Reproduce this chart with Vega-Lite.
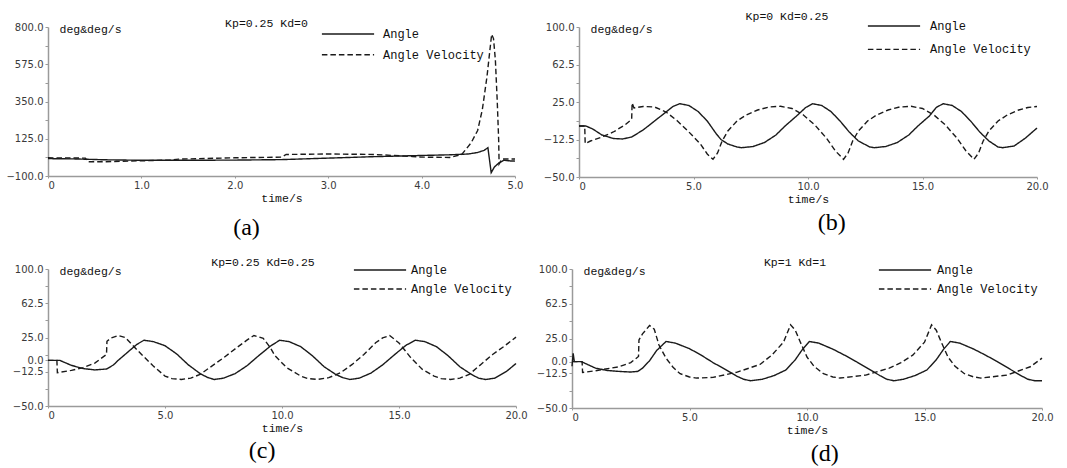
{
  "$schema": "https://vega.github.io/schema/vega-lite/v6.json",
  "background": "white",
  "padding": {"left": 5, "top": 10, "right": 0, "bottom": 0},
  "config": {
    "view": {"stroke": null},
    "axis": {"labelFont": "DejaVu Sans", "labelFontSize": 10, "labelColor": "#3a3a3a", "domainColor": "#9a9a9a", "domainWidth": 1.5, "tickColor": "#9a9a9a", "tickSize": 3, "tickWidth": 1, "labelPadding": 2, "grid": false, "titleFont": "Liberation Mono", "titleFontSize": 11.5, "titleFontWeight": "normal", "titleColor": "#111"},
    "axisX": {"titlePadding": 2, "tickSize": 2},
    "legend": {"labelFont": "Liberation Mono", "labelFontSize": 12, "labelColor": "#111", "symbolType": "M-2.9,0H2.9", "symbolSize": 324, "symbolStrokeWidth": 1.4, "symbolStrokeColor": "#1a1a1a", "labelOffset": 22, "padding": 0, "rowPadding": 0},
    "title": {"font": "Liberation Mono", "fontSize": 11.5, "fontWeight": "normal", "color": "#111", "offset": 0, "frame": "group"}
  },
  "resolve": {"scale": {"strokeDash": "independent"}, "legend": {"strokeDash": "independent"}},
  "datasets": {
    "a": [
      {"t":0,"v":5,"s":"Angle"},{"t":0.3,"v":3,"s":"Angle"},{"t":0.6,"v":-2,"s":"Angle"},{"t":1.0,"v":-5,"s":"Angle"},{"t":1.5,"v":-5,"s":"Angle"},{"t":2.0,"v":-4,"s":"Angle"},{"t":2.5,"v":-1,"s":"Angle"},{"t":3.0,"v":8,"s":"Angle"},{"t":3.5,"v":17,"s":"Angle"},{"t":4.0,"v":24,"s":"Angle"},{"t":4.3,"v":28,"s":"Angle"},{"t":4.5,"v":33,"s":"Angle"},{"t":4.6,"v":42,"s":"Angle"},{"t":4.67,"v":55,"s":"Angle"},{"t":4.71,"v":71,"s":"Angle"},{"t":4.745,"v":-80,"s":"Angle"},{"t":4.78,"v":-45,"s":"Angle"},{"t":4.82,"v":-25,"s":"Angle"},{"t":4.88,"v":-5,"s":"Angle"},{"t":4.95,"v":-9,"s":"Angle"},{"t":5.0,"v":-10,"s":"Angle"},
      {"t":0,"v":10,"s":"Angle Velocity"},{"t":0.4,"v":8,"s":"Angle Velocity"},{"t":0.43,"v":-14,"s":"Angle Velocity"},{"t":0.6,"v":-14,"s":"Angle Velocity"},{"t":1.0,"v":-8,"s":"Angle Velocity"},{"t":1.3,"v":-4,"s":"Angle Velocity"},{"t":1.4,"v":2,"s":"Angle Velocity"},{"t":2.0,"v":10,"s":"Angle Velocity"},{"t":2.5,"v":14,"s":"Angle Velocity"},{"t":2.55,"v":30,"s":"Angle Velocity"},{"t":3.0,"v":33,"s":"Angle Velocity"},{"t":3.5,"v":30,"s":"Angle Velocity"},{"t":3.9,"v":18,"s":"Angle Velocity"},{"t":4.0,"v":14,"s":"Angle Velocity"},{"t":4.3,"v":12,"s":"Angle Velocity"},{"t":4.43,"v":30,"s":"Angle Velocity"},{"t":4.53,"v":100,"s":"Angle Velocity"},{"t":4.6,"v":175,"s":"Angle Velocity"},{"t":4.65,"v":300,"s":"Angle Velocity"},{"t":4.7,"v":500,"s":"Angle Velocity"},{"t":4.75,"v":756,"s":"Angle Velocity"},{"t":4.77,"v":730,"s":"Angle Velocity"},{"t":4.79,"v":600,"s":"Angle Velocity"},{"t":4.81,"v":350,"s":"Angle Velocity"},{"t":4.825,"v":120,"s":"Angle Velocity"},{"t":4.83,"v":-27,"s":"Angle Velocity"},{"t":4.86,"v":3,"s":"Angle Velocity"},{"t":5.0,"v":3,"s":"Angle Velocity"}
    ],
    "b": [
      {"t":0,"v":1,"s":"Angle"},{"t":0.3,"v":1,"s":"Angle"},{"t":0.6,"v":-2,"s":"Angle"},{"t":1.0,"v":-8,"s":"Angle"},{"t":1.5,"v":-11.5,"s":"Angle"},{"t":1.9,"v":-12,"s":"Angle"},{"t":2.3,"v":-10,"s":"Angle"},{"t":2.8,"v":-3,"s":"Angle"},{"t":3.3,"v":6,"s":"Angle"},{"t":3.8,"v":15,"s":"Angle"},{"t":4.1,"v":20.5,"s":"Angle"},{"t":4.4,"v":23.3,"s":"Angle"},{"t":4.8,"v":21.5,"s":"Angle"},{"t":5.2,"v":15.5,"s":"Angle"},{"t":5.6,"v":6,"s":"Angle"},{"t":6.0,"v":-7,"s":"Angle"},{"t":6.2,"v":-12.5,"s":"Angle"},{"t":6.5,"v":-17,"s":"Angle"},{"t":6.9,"v":-20,"s":"Angle"},{"t":7.1,"v":-20.7,"s":"Angle"},{"t":7.6,"v":-19.5,"s":"Angle"},{"t":8.1,"v":-15.5,"s":"Angle"},{"t":8.6,"v":-8,"s":"Angle"},{"t":9.0,"v":1,"s":"Angle"},{"t":9.5,"v":11,"s":"Angle"},{"t":9.9,"v":19.5,"s":"Angle"},{"t":10.2,"v":23.3,"s":"Angle"},{"t":10.6,"v":21.5,"s":"Angle"},{"t":11.0,"v":15.5,"s":"Angle"},{"t":11.4,"v":6,"s":"Angle"},{"t":11.8,"v":-5,"s":"Angle"},{"t":12.2,"v":-14,"s":"Angle"},{"t":12.7,"v":-20,"s":"Angle"},{"t":12.9,"v":-20.7,"s":"Angle"},{"t":13.4,"v":-19.5,"s":"Angle"},{"t":13.9,"v":-15.5,"s":"Angle"},{"t":14.4,"v":-8,"s":"Angle"},{"t":14.8,"v":1,"s":"Angle"},{"t":15.3,"v":11,"s":"Angle"},{"t":15.6,"v":19.5,"s":"Angle"},{"t":15.9,"v":23.3,"s":"Angle"},{"t":16.3,"v":21.5,"s":"Angle"},{"t":16.7,"v":15.5,"s":"Angle"},{"t":17.1,"v":6,"s":"Angle"},{"t":17.5,"v":-5,"s":"Angle"},{"t":17.9,"v":-14,"s":"Angle"},{"t":18.3,"v":-20,"s":"Angle"},{"t":18.5,"v":-20.7,"s":"Angle"},{"t":19.0,"v":-19,"s":"Angle"},{"t":19.5,"v":-11,"s":"Angle"},{"t":20.0,"v":-1,"s":"Angle"},
      {"t":0,"v":1,"s":"Angle Velocity"},{"t":0.25,"v":1,"s":"Angle Velocity"},{"t":0.27,"v":-16.5,"s":"Angle Velocity"},{"t":0.5,"v":-14,"s":"Angle Velocity"},{"t":1.0,"v":-10,"s":"Angle Velocity"},{"t":1.5,"v":-5,"s":"Angle Velocity"},{"t":2.0,"v":2,"s":"Angle Velocity"},{"t":2.3,"v":7.7,"s":"Angle Velocity"},{"t":2.32,"v":24,"s":"Angle Velocity"},{"t":2.4,"v":19,"s":"Angle Velocity"},{"t":2.8,"v":20.5,"s":"Angle Velocity"},{"t":3.3,"v":20,"s":"Angle Velocity"},{"t":3.8,"v":15,"s":"Angle Velocity"},{"t":4.3,"v":6,"s":"Angle Velocity"},{"t":4.8,"v":-5,"s":"Angle Velocity"},{"t":5.3,"v":-17,"s":"Angle Velocity"},{"t":5.6,"v":-27,"s":"Angle Velocity"},{"t":5.85,"v":-32.3,"s":"Angle Velocity"},{"t":6.05,"v":-26,"s":"Angle Velocity"},{"t":6.25,"v":-14,"s":"Angle Velocity"},{"t":6.5,"v":-4,"s":"Angle Velocity"},{"t":6.9,"v":6,"s":"Angle Velocity"},{"t":7.3,"v":12,"s":"Angle Velocity"},{"t":7.8,"v":17,"s":"Angle Velocity"},{"t":8.3,"v":20,"s":"Angle Velocity"},{"t":8.8,"v":20.7,"s":"Angle Velocity"},{"t":9.3,"v":18.5,"s":"Angle Velocity"},{"t":9.8,"v":12,"s":"Angle Velocity"},{"t":10.3,"v":2,"s":"Angle Velocity"},{"t":10.8,"v":-11,"s":"Angle Velocity"},{"t":11.2,"v":-24,"s":"Angle Velocity"},{"t":11.55,"v":-32.3,"s":"Angle Velocity"},{"t":11.75,"v":-26,"s":"Angle Velocity"},{"t":11.95,"v":-14,"s":"Angle Velocity"},{"t":12.2,"v":-4,"s":"Angle Velocity"},{"t":12.6,"v":6,"s":"Angle Velocity"},{"t":13.0,"v":12,"s":"Angle Velocity"},{"t":13.5,"v":17,"s":"Angle Velocity"},{"t":14.0,"v":20,"s":"Angle Velocity"},{"t":14.5,"v":20.7,"s":"Angle Velocity"},{"t":15.0,"v":18.5,"s":"Angle Velocity"},{"t":15.5,"v":12,"s":"Angle Velocity"},{"t":16.0,"v":2,"s":"Angle Velocity"},{"t":16.5,"v":-11,"s":"Angle Velocity"},{"t":16.9,"v":-24,"s":"Angle Velocity"},{"t":17.25,"v":-32.3,"s":"Angle Velocity"},{"t":17.45,"v":-26,"s":"Angle Velocity"},{"t":17.65,"v":-14,"s":"Angle Velocity"},{"t":17.9,"v":-4,"s":"Angle Velocity"},{"t":18.3,"v":6,"s":"Angle Velocity"},{"t":18.7,"v":12,"s":"Angle Velocity"},{"t":19.2,"v":17,"s":"Angle Velocity"},{"t":19.6,"v":19.5,"s":"Angle Velocity"},{"t":20.0,"v":20.5,"s":"Angle Velocity"}
    ],
    "c": [
      {"t":0,"v":0,"s":"Angle"},{"t":0.5,"v":0,"s":"Angle"},{"t":1.0,"v":-5.5,"s":"Angle"},{"t":1.5,"v":-9,"s":"Angle"},{"t":2.0,"v":-10.5,"s":"Angle"},{"t":2.5,"v":-9.5,"s":"Angle"},{"t":2.8,"v":-5,"s":"Angle"},{"t":3.0,"v":0,"s":"Angle"},{"t":3.5,"v":11,"s":"Angle"},{"t":3.8,"v":17.5,"s":"Angle"},{"t":4.1,"v":22,"s":"Angle"},{"t":4.5,"v":20.5,"s":"Angle"},{"t":5.0,"v":16,"s":"Angle"},{"t":5.5,"v":7,"s":"Angle"},{"t":6.0,"v":-5,"s":"Angle"},{"t":6.5,"v":-14.5,"s":"Angle"},{"t":6.8,"v":-18.5,"s":"Angle"},{"t":7.1,"v":-21,"s":"Angle"},{"t":7.5,"v":-19.5,"s":"Angle"},{"t":8.0,"v":-14.5,"s":"Angle"},{"t":8.5,"v":-6,"s":"Angle"},{"t":9.0,"v":5,"s":"Angle"},{"t":9.5,"v":15.5,"s":"Angle"},{"t":9.9,"v":22,"s":"Angle"},{"t":10.3,"v":20.5,"s":"Angle"},{"t":10.8,"v":15,"s":"Angle"},{"t":11.3,"v":5,"s":"Angle"},{"t":11.8,"v":-7,"s":"Angle"},{"t":12.3,"v":-15.5,"s":"Angle"},{"t":12.6,"v":-19,"s":"Angle"},{"t":12.9,"v":-21,"s":"Angle"},{"t":13.3,"v":-19.5,"s":"Angle"},{"t":13.8,"v":-14,"s":"Angle"},{"t":14.3,"v":-5,"s":"Angle"},{"t":14.8,"v":6,"s":"Angle"},{"t":15.3,"v":16.5,"s":"Angle"},{"t":15.7,"v":22,"s":"Angle"},{"t":16.1,"v":20.5,"s":"Angle"},{"t":16.6,"v":15,"s":"Angle"},{"t":17.1,"v":5,"s":"Angle"},{"t":17.6,"v":-7,"s":"Angle"},{"t":18.1,"v":-15.5,"s":"Angle"},{"t":18.4,"v":-19.5,"s":"Angle"},{"t":18.7,"v":-21,"s":"Angle"},{"t":19.1,"v":-19.5,"s":"Angle"},{"t":19.6,"v":-12,"s":"Angle"},{"t":20.0,"v":-3.5,"s":"Angle"},
      {"t":0,"v":0,"s":"Angle Velocity"},{"t":0.38,"v":0,"s":"Angle Velocity"},{"t":0.4,"v":-13.6,"s":"Angle Velocity"},{"t":1.0,"v":-11,"s":"Angle Velocity"},{"t":1.5,"v":-8,"s":"Angle Velocity"},{"t":2.0,"v":-3,"s":"Angle Velocity"},{"t":2.5,"v":6.4,"s":"Angle Velocity"},{"t":2.52,"v":20.9,"s":"Angle Velocity"},{"t":2.7,"v":24.5,"s":"Angle Velocity"},{"t":3.0,"v":27.2,"s":"Angle Velocity"},{"t":3.3,"v":25,"s":"Angle Velocity"},{"t":3.6,"v":17,"s":"Angle Velocity"},{"t":4.0,"v":6.4,"s":"Angle Velocity"},{"t":4.5,"v":-6.3,"s":"Angle Velocity"},{"t":5.0,"v":-17.2,"s":"Angle Velocity"},{"t":5.3,"v":-20,"s":"Angle Velocity"},{"t":5.7,"v":-20.9,"s":"Angle Velocity"},{"t":6.1,"v":-19.5,"s":"Angle Velocity"},{"t":6.5,"v":-15.4,"s":"Angle Velocity"},{"t":7.0,"v":-6.3,"s":"Angle Velocity"},{"t":7.5,"v":2.8,"s":"Angle Velocity"},{"t":8.0,"v":12.6,"s":"Angle Velocity"},{"t":8.5,"v":22.1,"s":"Angle Velocity"},{"t":8.8,"v":27.2,"s":"Angle Velocity"},{"t":9.2,"v":24,"s":"Angle Velocity"},{"t":9.5,"v":14,"s":"Angle Velocity"},{"t":9.7,"v":5,"s":"Angle Velocity"},{"t":10.2,"v":-8,"s":"Angle Velocity"},{"t":10.8,"v":-17.2,"s":"Angle Velocity"},{"t":11.1,"v":-20,"s":"Angle Velocity"},{"t":11.5,"v":-20.9,"s":"Angle Velocity"},{"t":12.0,"v":-19,"s":"Angle Velocity"},{"t":12.5,"v":-13.6,"s":"Angle Velocity"},{"t":13.0,"v":-4.5,"s":"Angle Velocity"},{"t":13.5,"v":6.4,"s":"Angle Velocity"},{"t":14.0,"v":19.2,"s":"Angle Velocity"},{"t":14.3,"v":24.5,"s":"Angle Velocity"},{"t":14.6,"v":27.2,"s":"Angle Velocity"},{"t":15.0,"v":19,"s":"Angle Velocity"},{"t":15.5,"v":3,"s":"Angle Velocity"},{"t":16.0,"v":-10,"s":"Angle Velocity"},{"t":16.5,"v":-17.2,"s":"Angle Velocity"},{"t":16.8,"v":-20,"s":"Angle Velocity"},{"t":17.2,"v":-20.9,"s":"Angle Velocity"},{"t":17.6,"v":-19.5,"s":"Angle Velocity"},{"t":18.0,"v":-15.4,"s":"Angle Velocity"},{"t":18.5,"v":-4.5,"s":"Angle Velocity"},{"t":19.0,"v":6.4,"s":"Angle Velocity"},{"t":19.5,"v":15.5,"s":"Angle Velocity"},{"t":20.0,"v":25.4,"s":"Angle Velocity"}
    ],
    "d": [
      {"t":0,"v":-5,"s":"Angle"},{"t":0.05,"v":9,"s":"Angle"},{"t":0.1,"v":0,"s":"Angle"},{"t":0.4,"v":0,"s":"Angle"},{"t":1.0,"v":-7,"s":"Angle"},{"t":1.5,"v":-9.5,"s":"Angle"},{"t":2.0,"v":-10.5,"s":"Angle"},{"t":2.5,"v":-11.2,"s":"Angle"},{"t":2.8,"v":-10.5,"s":"Angle"},{"t":3.0,"v":-7,"s":"Angle"},{"t":3.3,"v":1,"s":"Angle"},{"t":3.6,"v":12,"s":"Angle"},{"t":4.0,"v":21.8,"s":"Angle"},{"t":4.4,"v":20,"s":"Angle"},{"t":5.0,"v":14,"s":"Angle"},{"t":5.5,"v":7,"s":"Angle"},{"t":6.0,"v":-1,"s":"Angle"},{"t":6.5,"v":-8,"s":"Angle"},{"t":7.0,"v":-15.5,"s":"Angle"},{"t":7.3,"v":-19,"s":"Angle"},{"t":7.6,"v":-20.6,"s":"Angle"},{"t":8.1,"v":-19,"s":"Angle"},{"t":8.6,"v":-15,"s":"Angle"},{"t":9.1,"v":-9,"s":"Angle"},{"t":9.5,"v":2,"s":"Angle"},{"t":9.8,"v":13,"s":"Angle"},{"t":10.1,"v":21.8,"s":"Angle"},{"t":10.5,"v":20,"s":"Angle"},{"t":11.1,"v":13.5,"s":"Angle"},{"t":11.6,"v":7,"s":"Angle"},{"t":12.1,"v":0,"s":"Angle"},{"t":12.6,"v":-7.5,"s":"Angle"},{"t":13.1,"v":-15,"s":"Angle"},{"t":13.4,"v":-19,"s":"Angle"},{"t":13.7,"v":-20.6,"s":"Angle"},{"t":14.1,"v":-19,"s":"Angle"},{"t":14.6,"v":-15,"s":"Angle"},{"t":15.1,"v":-9,"s":"Angle"},{"t":15.5,"v":2,"s":"Angle"},{"t":15.8,"v":13,"s":"Angle"},{"t":16.1,"v":21.8,"s":"Angle"},{"t":16.5,"v":20,"s":"Angle"},{"t":17.1,"v":13.5,"s":"Angle"},{"t":17.6,"v":7,"s":"Angle"},{"t":18.1,"v":0,"s":"Angle"},{"t":18.6,"v":-7.5,"s":"Angle"},{"t":19.1,"v":-15,"s":"Angle"},{"t":19.4,"v":-19,"s":"Angle"},{"t":19.7,"v":-20.6,"s":"Angle"},{"t":20.0,"v":-20.6,"s":"Angle"},
      {"t":0,"v":0,"s":"Angle Velocity"},{"t":0.43,"v":0,"s":"Angle Velocity"},{"t":0.45,"v":-11.6,"s":"Angle Velocity"},{"t":1.0,"v":-9.8,"s":"Angle Velocity"},{"t":2.0,"v":-5.5,"s":"Angle Velocity"},{"t":2.5,"v":-1,"s":"Angle Velocity"},{"t":2.83,"v":5.6,"s":"Angle Velocity"},{"t":2.85,"v":23.5,"s":"Angle Velocity"},{"t":3.0,"v":30,"s":"Angle Velocity"},{"t":3.3,"v":39,"s":"Angle Velocity"},{"t":3.5,"v":35,"s":"Angle Velocity"},{"t":3.7,"v":18,"s":"Angle Velocity"},{"t":4.0,"v":3.8,"s":"Angle Velocity"},{"t":4.3,"v":-6,"s":"Angle Velocity"},{"t":4.6,"v":-13,"s":"Angle Velocity"},{"t":5.0,"v":-16.5,"s":"Angle Velocity"},{"t":5.3,"v":-17.7,"s":"Angle Velocity"},{"t":6.0,"v":-17,"s":"Angle Velocity"},{"t":7.0,"v":-11.5,"s":"Angle Velocity"},{"t":8.0,"v":-3,"s":"Angle Velocity"},{"t":8.5,"v":7,"s":"Angle Velocity"},{"t":9.0,"v":21,"s":"Angle Velocity"},{"t":9.3,"v":39.7,"s":"Angle Velocity"},{"t":9.5,"v":34,"s":"Angle Velocity"},{"t":9.7,"v":22,"s":"Angle Velocity"},{"t":10.0,"v":5,"s":"Angle Velocity"},{"t":10.3,"v":-5,"s":"Angle Velocity"},{"t":10.7,"v":-13,"s":"Angle Velocity"},{"t":11.1,"v":-16.5,"s":"Angle Velocity"},{"t":11.4,"v":-17.7,"s":"Angle Velocity"},{"t":12.5,"v":-14.5,"s":"Angle Velocity"},{"t":13.5,"v":-7,"s":"Angle Velocity"},{"t":14.0,"v":-1,"s":"Angle Velocity"},{"t":14.5,"v":7,"s":"Angle Velocity"},{"t":15.0,"v":21,"s":"Angle Velocity"},{"t":15.3,"v":39.7,"s":"Angle Velocity"},{"t":15.5,"v":34,"s":"Angle Velocity"},{"t":15.7,"v":22,"s":"Angle Velocity"},{"t":16.0,"v":5,"s":"Angle Velocity"},{"t":16.3,"v":-5,"s":"Angle Velocity"},{"t":16.7,"v":-13,"s":"Angle Velocity"},{"t":17.1,"v":-16.5,"s":"Angle Velocity"},{"t":17.4,"v":-17.7,"s":"Angle Velocity"},{"t":18.5,"v":-14.5,"s":"Angle Velocity"},{"t":19.5,"v":-5.5,"s":"Angle Velocity"},{"t":20.0,"v":3.8,"s":"Angle Velocity"}
    ]
  },
  "spacing": 16,
  "vconcat": [
    {
      "spacing": 20,
      "resolve": {"scale": {"strokeDash": "independent"}, "legend": {"strokeDash": "independent"}},
      "hconcat": [
        {
          "title": {"text": "(a)", "orient": "bottom", "anchor": "middle", "frame": "bounds", "font": "Liberation Serif", "fontSize": 24, "color": "#000", "dx": -18, "offset": 12},
          "resolve": {"scale": {"strokeDash": "independent"}, "legend": {"strokeDash": "independent"}},
          "vconcat": [{
            "width": 467, "height": 149,
            "title": {"text": "Kp=0.25 Kd=0", "dx": -15, "offset": -7},
            "data": {"name": "a"},
            "mark": {"type": "line", "strokeWidth": 1.4, "color": "#1a1a1a"},
            "encoding": {
              "x": {"field": "t", "type": "quantitative", "scale": {"domain": [0, 5], "nice": false}, "axis": {"values": [0, 1, 2, 3, 4, 5], "title": "time/s", "labelExpr": "datum.value === 0 ? '0' : format(datum.value, '.1f')", "labelAlign": {"condition": {"test": "datum.value === 0", "value": "left"}, "value": "center"}}},
              "y": {"field": "v", "type": "quantitative", "scale": {"domain": [-100, 800], "nice": false, "zero": false}, "axis": {"values": [-100, 12.5, 125, 237.5, 350, 462.5, 575, 687.5, 800], "labelExpr": "indexof([-100, 125, 350, 575, 800], datum.value) < 0 ? '' : format(datum.value, '.1f')", "title": "deg&deg/s", "titleAngle": 0, "titleX": 11, "titleY": 2, "titleAlign": "left", "titleBaseline": "middle"}},
              "strokeDash": {"field": "s", "type": "nominal", "scale": {"domain": ["Angle", "Angle Velocity"], "range": [[1, 0], [5.5, 3]]}, "legend": {"orient": "none", "legendX": 290, "legendY": -3, "rowPadding": 4.7, "labelOffset": 25, "title": null}}
            }
          }]
        },
        {
          "title": {"text": "(b)", "orient": "bottom", "anchor": "middle", "frame": "bounds", "font": "Liberation Serif", "fontSize": 24, "color": "#000", "dx": 36, "offset": 6},
          "resolve": {"scale": {"strokeDash": "independent"}, "legend": {"strokeDash": "independent"}},
          "vconcat": [{
            "width": 458, "height": 150,
            "title": {"text": "Kp=0 Kd=0.25", "dx": -21, "offset": -6.3},
            "data": {"name": "b"},
            "mark": {"type": "line", "strokeWidth": 1.4, "color": "#1a1a1a"},
            "encoding": {
              "x": {"field": "t", "type": "quantitative", "scale": {"domain": [0, 20], "nice": false}, "axis": {"values": [0, 5, 10, 15, 20], "title": "time/s", "labelExpr": "datum.value === 0 ? '0' : format(datum.value, '.1f')", "labelAlign": {"condition": {"test": "datum.value === 0", "value": "left"}, "value": "center"}}},
              "y": {"field": "v", "type": "quantitative", "scale": {"domain": [-50, 100], "nice": false, "zero": false}, "axis": {"values": [-50, -31.25, -12.5, 6.25, 25, 43.75, 62.5, 81.25, 100], "labelExpr": "indexof([-50, -12.5, 25, 62.5, 100], datum.value) < 0 ? '' : format(datum.value, '.1f')", "title": "deg&deg/s", "titleAngle": 0, "titleX": 11, "titleY": 2, "titleAlign": "left", "titleBaseline": "middle"}},
              "strokeDash": {"field": "s", "type": "nominal", "scale": {"domain": ["Angle", "Angle Velocity"], "range": [[1, 0], [5.5, 3]]}, "legend": {"orient": "none", "legendX": 305, "legendY": -11, "rowPadding": 7.4, "labelOffset": 26, "title": null}}
            }
          }]
        }
      ]
    },
    {
      "spacing": 8,
      "resolve": {"scale": {"strokeDash": "independent"}, "legend": {"strokeDash": "independent"}},
      "hconcat": [
        {
          "title": {"text": "(c)", "orient": "bottom", "anchor": "middle", "frame": "bounds", "font": "Liberation Serif", "fontSize": 24, "color": "#000", "dx": -5, "offset": 5},
          "resolve": {"scale": {"strokeDash": "independent"}, "legend": {"strokeDash": "independent"}},
          "vconcat": [{
            "width": 468, "height": 137,
            "title": {"text": "Kp=0.25 Kd=0.25", "dx": -19, "offset": -8.4},
            "data": {"name": "c"},
            "mark": {"type": "line", "strokeWidth": 1.4, "color": "#1a1a1a"},
            "encoding": {
              "x": {"field": "t", "type": "quantitative", "scale": {"domain": [0, 20], "nice": false}, "axis": {"values": [0, 5, 10, 15, 20], "title": "time/s", "labelExpr": "datum.value === 0 ? '0' : format(datum.value, '.1f')", "labelAlign": {"condition": {"test": "datum.value === 0", "value": "left"}, "value": "center"}}},
              "y": {"field": "v", "type": "quantitative", "scale": {"domain": [-50, 100], "nice": false, "zero": false}, "axis": {"values": [-50, -31.25, -12.5, 0, 6.25, 25, 43.75, 62.5, 81.25, 100], "labelExpr": "indexof([-50, -12.5, 0, 25, 62.5, 100], datum.value) < 0 ? '' : format(datum.value, '.1f')", "minExtent": 41, "title": "deg&deg/s", "titleAngle": 0, "titleX": 11, "titleY": 2, "titleAlign": "left", "titleBaseline": "middle"}},
              "strokeDash": {"field": "s", "type": "nominal", "scale": {"domain": ["Angle", "Angle Velocity"], "range": [[1, 0], [5.5, 3]]}, "legend": {"orient": "none", "legendX": 322, "legendY": -9, "rowPadding": 3, "labelOffset": 21, "title": null}}
            }
          }]
        },
        {
          "title": {"text": "(d)", "orient": "bottom", "anchor": "middle", "frame": "bounds", "font": "Liberation Serif", "fontSize": 24, "color": "#000", "dx": 30, "offset": 6},
          "resolve": {"scale": {"strokeDash": "independent"}, "legend": {"strokeDash": "independent"}},
          "vconcat": [{
            "width": 470, "height": 139,
            "title": {"text": "Kp=1 Kd=1", "dx": -12, "offset": -8},
            "data": {"name": "d"},
            "mark": {"type": "line", "strokeWidth": 1.4, "color": "#1a1a1a"},
            "encoding": {
              "x": {"field": "t", "type": "quantitative", "scale": {"domain": [0, 20], "nice": false}, "axis": {"values": [0, 5, 10, 15, 20], "title": "time/s", "labelExpr": "datum.value === 0 ? '0' : format(datum.value, '.1f')", "labelAlign": {"condition": {"test": "datum.value === 0", "value": "left"}, "value": "center"}}},
              "y": {"field": "v", "type": "quantitative", "scale": {"domain": [-50, 100], "nice": false, "zero": false}, "axis": {"values": [-50, -31.25, -12.5, 0, 6.25, 25, 43.75, 62.5, 81.25, 100], "labelExpr": "indexof([-50, -12.5, 0, 25, 62.5, 100], datum.value) < 0 ? '' : format(datum.value, '.1f')", "title": "deg&deg/s", "titleAngle": 0, "titleX": 11, "titleY": 2, "titleAlign": "left", "titleBaseline": "middle"}},
              "strokeDash": {"field": "s", "type": "nominal", "scale": {"domain": ["Angle", "Angle Velocity"], "range": [[1, 0], [5.5, 3]]}, "legend": {"orient": "none", "legendX": 323, "legendY": -9, "rowPadding": 3, "labelOffset": 22, "title": null}}
            }
          }]
        }
      ]
    }
  ]
}
